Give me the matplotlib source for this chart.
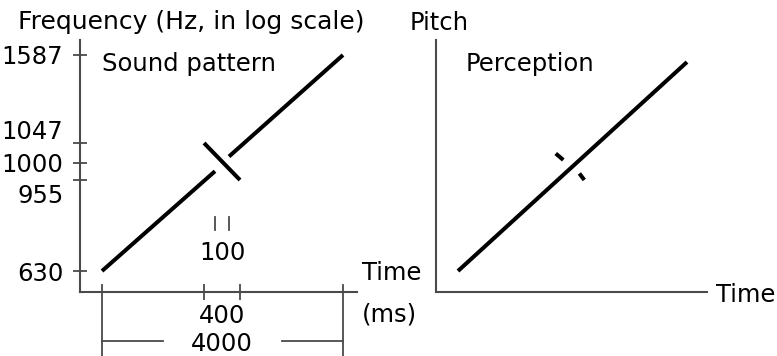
import numpy as np
import matplotlib.pyplot as plt
from matplotlib.transforms import blended_transform_factory

# stimulus: long rising glide with a 100 ms gap, crossed by a short falling glide
freq_ticks = [630, 955, 1000, 1047, 1587]
freq_labels = ['630', '955', '1000', '1047', '1587']

long_lo_t = [0, 1950]        # ms
long_lo_f = [630, 978]       # Hz
long_hi_t = [2050, 4000]
long_hi_f = [1015, 1587]
short_t = [1800, 2200]
short_f = [1047, 955]
gap_t = [1950, 2050]
short_span = [1800, 2200]
total_span = [0, 4000]

# what listeners report: long glide continuous, gap heard in the short one
perc_long_t = [0, 3790]
perc_long_f = [630, 1535]
perc_stub1_t = [1725, 1845]
perc_stub1_f = [1022, 1007]
perc_stub2_t = [2010, 2045]
perc_stub2_f = [972, 955]

# schematic (not to scale) axis layout, in pixels along each axis
T_KNOTS = [-2000, 0, 1800, 1950, 2050, 2200, 4000, 6000]
T_PIX = [-91, 22, 124, 135, 149, 160, 263, 377]
F_KNOTS = [500, 630, 955, 1000, 1047, 1587, 2000]
F_PIX = [-29.5, 21, 112, 129, 149, 237, 286]
LOGF = np.log(F_KNOTS)


def fwd_t(t):
    return np.interp(t, T_KNOTS, T_PIX)


def inv_t(p):
    return np.interp(p, T_PIX, T_KNOTS)


def fwd_f(f):
    return np.interp(np.log(np.clip(f, 1e-9, None)), LOGF, F_PIX)


def inv_f(p):
    return np.exp(np.interp(p, F_PIX, LOGF))


W, H = 777, 356
AXC = '#4a4a4a'
FS = 17.5


def box(x0, y0, x1, y1):
    return [x0 / W, 1 - y1 / H, (x1 - x0) / W, (y1 - y0) / H]


def px(x, y):
    return x / W, 1 - y / H


def setup(ax, width):
    ax.set_xscale('function', functions=(fwd_t, inv_t))
    ax.set_yscale('function', functions=(fwd_f, inv_f))
    ax.set_xlim(inv_t(0), inv_t(width))
    ax.set_ylim(inv_f(0), inv_f(252))
    for s in ['top', 'right']:
        ax.spines[s].set_visible(False)
    for s in ['left', 'bottom']:
        ax.spines[s].set_color(AXC)
        ax.spines[s].set_linewidth(1.5)
    ax.set_facecolor('none')


plt.rcParams['font.family'] = 'DejaVu Sans'
fig = plt.figure(figsize=(W / 100, H / 100), dpi=100)

# ---- sound pattern ----
ax = fig.add_axes(box(80, 40, 357, 292))
setup(ax, 277)
ax.set_yticks(freq_ticks)
ax.set_xticks(short_span)
ax.tick_params(axis='y', direction='inout', length=10, width=1.3, color=AXC,
               labelleft=False)
ax.tick_params(axis='x', direction='inout', length=11, width=1.3, color=AXC,
               labelbottom=False)
ax.minorticks_off()

lw = 2.9
ax.plot(long_lo_t, long_lo_f, color='black', lw=lw, solid_capstyle='butt')
ax.plot(long_hi_t, long_hi_f, color='black', lw=lw, solid_capstyle='butt')
ax.plot(short_t, short_f, color='black', lw=lw, solid_capstyle='butt')

ytr = ax.get_yaxis_transform()
offsets = {'630': 0, '955': -10, '1000': 0, '1047': 9.5, '1587': 0}
for f, lab in zip(freq_ticks, freq_labels):
    ax.annotate(lab, xy=(0, f), xycoords=ytr, xytext=(-12, offsets[lab]),
                textcoords='offset points', ha='right', va='center_baseline',
                fontsize=FS)

xtr = blended_transform_factory(ax.transData, ax.transAxes)
# 4000 ms span
for t in total_span:
    ax.plot([t, t], [0.028, -0.26], color=AXC, lw=1.3, transform=xtr,
            clip_on=False)
ax.plot([total_span[0], 1080], [-0.194, -0.194], color=AXC, lw=1.3,
        transform=xtr, clip_on=False)
ax.plot([2930, total_span[1]], [-0.194, -0.194], color=AXC, lw=1.3,
        transform=xtr, clip_on=False)
# 100 ms gap
for t in gap_t:
    ax.plot([t, t], [0.298, 0.246], color=AXC, lw=1.3, transform=xtr,
            clip_on=False)

mid = np.mean(short_span)
ax.text(mid, 0.166, str(int(np.diff(gap_t)[0])), transform=xtr, ha='center',
        va='center_baseline', fontsize=FS)
ax.text(mid, -0.085, str(int(np.diff(short_span)[0])), transform=xtr,
        ha='center', va='center_baseline', fontsize=FS)
ax.text(mid, -0.195, str(int(np.diff(total_span)[0])), transform=xtr,
        ha='center', va='center_baseline', fontsize=FS)

fig.text(*px(18, 19), 'Frequency (Hz, in log scale)', fontsize=18,
         va='center_baseline')
fig.text(*px(102, 62), 'Sound pattern', fontsize=FS, va='center_baseline')
fig.text(*px(362, 270), 'Time', fontsize=FS, va='center_baseline')
fig.text(*px(362, 312), '(ms)', fontsize=FS, va='center_baseline')

# ---- perception ----
ax2 = fig.add_axes(box(436, 40, 707, 292))
setup(ax2, 271)
ax2.set_xticks([])
ax2.set_yticks([])
ax2.minorticks_off()
ax2.plot(perc_long_t, perc_long_f, color='black', lw=lw, solid_capstyle='butt')
ax2.plot(perc_stub1_t, perc_stub1_f, color='black', lw=lw,
         solid_capstyle='butt')
ax2.plot(perc_stub2_t, perc_stub2_f, color='black', lw=lw,
         solid_capstyle='butt')

fig.text(*px(410, 20), 'Pitch', fontsize=FS, va='center_baseline')
fig.text(*px(466, 62), 'Perception', fontsize=FS, va='center_baseline')
fig.text(*px(716, 293), 'Time', fontsize=FS, va='center_baseline')

fig.savefig('out.png', dpi=100)
